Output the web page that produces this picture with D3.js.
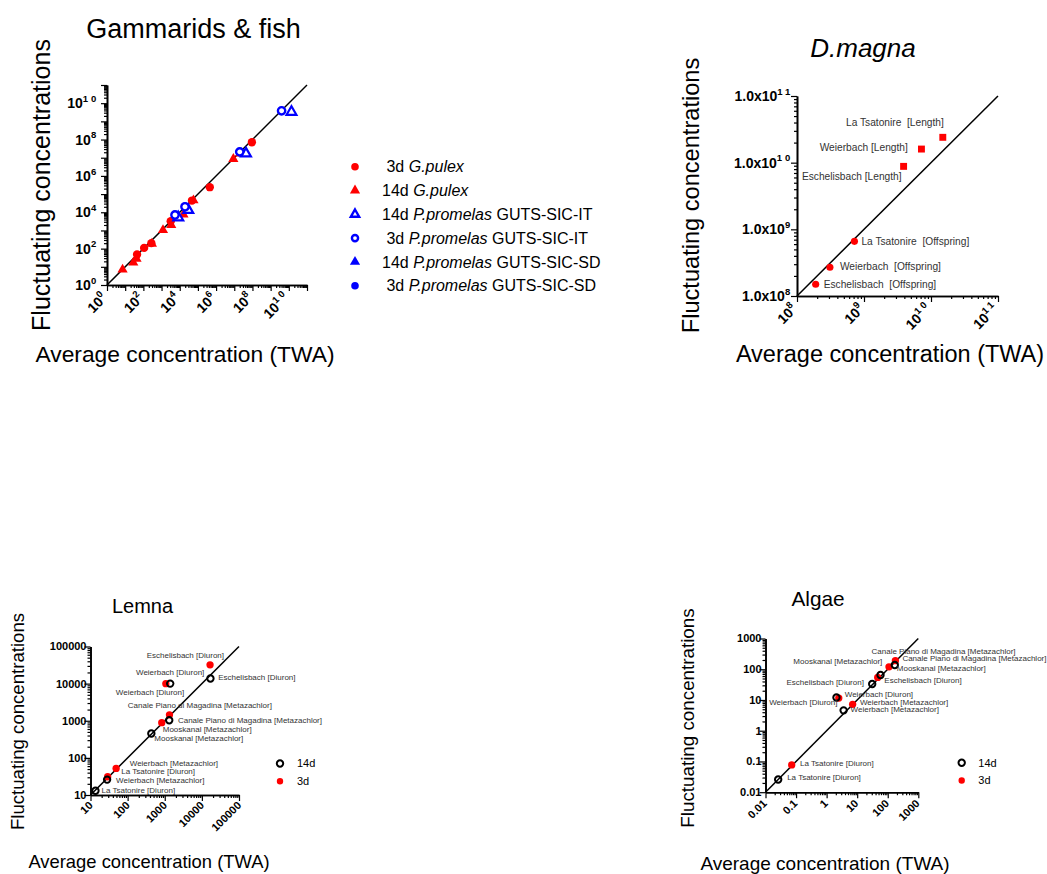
<!DOCTYPE html>
<html>
<head>
<meta charset="utf-8">
<script src="https://cdn.jsdelivr.net/npm/d3@7"></script>
<style>
body { margin: 0; background: #fff; }
text { font-family: "Liberation Sans", Arial, sans-serif; }
</style>
</head>
<body>
<svg id="chart" width="1047" height="874"></svg>
<script>
// ---- Gammarids & fish ----
var gp3dX = [45, 110, 275, 3200, 47000, 450000, 9.3e7];
var gp3dY = [48, 110, 200, 3200, 44000, 240000, 7.1e7];
var gp14dX = [7.2, 28, 42, 295, 1200, 3400, 16000, 57000, 8.9e6, 2.1e7];
var gp14dY = [7.1, 17, 28, 186, 1050, 2000, 7600, 45000, 8.5e6, 1.7e7];
var pp14dItX = [8300, 29500, 4.4e7, 1.4e10];
var pp14dItY = [5200, 13200, 1.7e7, 3.3e9];
var pp3dItX = [5500, 19500, 2.0e7, 4.0e9];
var pp3dItY = [7100, 20000, 2.1e7, 3.8e9];
// SD results sit under the IT symbols
var pp14dSdX = [8300, 29500, 4.4e7, 1.4e10];
var pp14dSdY = [5200, 13200, 1.7e7, 3.3e9];
var pp3dSdX = [5500, 19500, 2.0e7, 4.0e9];
var pp3dSdY = [7100, 20000, 2.1e7, 3.8e9];
var gfLegend = [" 3d |G.pulex|", "14d |G.pulex|", "14d |P.promelas| GUTS-SIC-IT", " 3d |P.promelas| GUTS-SIC-IT", "14d |P.promelas| GUTS-SIC-SD", " 3d |P.promelas| GUTS-SIC-SD"];
var gfTickExp = [0, 2, 4, 6, 8, 10];

// ---- D.magna ----
var dmSites = ["Eschelisbach", "Weierbach", "La Tsatonire"];
var dmOffX = [1.9e8, 3.1e8, 7.2e8];
var dmOffY = [1.5e8, 2.7e8, 6.6e8];
var dmLenX = [3.9e9, 7.2e9, 1.5e10];
var dmLenY = [8.8e9, 1.6e10, 2.4e10];
var dmOffLabels = ["Eschelisbach  [Offspring]", "Weierbach  [Offspring]", "La Tsatonire  [Offspring]"];
var dmLenLabels = ["Eschelisbach [Length]", "Weierbach [Length]", "La Tsatonire  [Length]"];
var dmTickExp = [8, 9, 10, 11];

// ---- Lemna / Algae (same site order) ----
var sites = ["La Tsatonire [Diuron]", "Weierbach [Metazachlor]", "Mooskanal [Metazachlor]", "Canale Piano di Magadina [Metazachlor]", "Weierbach [Diuron]", "Eschelisbach [Diuron]"];
var lem14dX = [13.6, 28, 435, 1320, 1400, 17000];
var lem14dY = [13, 26, 455, 1030, 10000, 13800];
var lem3dX = [29, 49, 830, 1340, 1070, 16600];
var lem3dY = [31, 52, 890, 1440, 10000, 32000];
var lemTicks = [10, 100, 1000, 10000, 100000];

var alg14dX = [0.026, 3.6, 170, 58, 2.1, 31];
var alg14dY = [0.026, 4.6, 138, 65, 12, 33];
var alg3dX = [0.072, 7.1, 110, 178, 2.5, 47];
var alg3dY = [0.077, 7.2, 120, 190, 11.5, 54];
var algTicks = [0.01, 0.1, 1, 10, 100, 1000];

var svg = d3.select('#chart');
var RED = '#ff0000', BLUE = '#0000ff';

function logTicks(lo, hi) {
    var out = [];
    for (var e = lo; e < hi; e++)
        for (var k = 1; k < 10; k++) out.push({v: k * Math.pow(10, e), major: k === 1});
    out.push({v: Math.pow(10, hi), major: true});
    return out;
}

function styleAxis(g) {
    g.select('.domain').attr('stroke', '#000').attr('stroke-width', 1.6);
    g.selectAll('.tick line').attr('stroke', '#000').attr('stroke-width', 1.2);
}

function drawAxes(x, y, lo, hi) {
    var t = logTicks(lo, hi);
    var major = t.filter(d => d.major).map(d => d.v);
    var minor = t.filter(d => !d.major).map(d => d.v);
    var x0 = x.range()[0], y0 = y.range()[0];
    [[minor, 3], [major, 6]].forEach(function (p) {
        svg.append('g').attr('transform', 'translate(0,' + y0 + ')')
            .call(d3.axisBottom(x).tickValues(p[0]).tickSize(p[1]).tickSizeOuter(0).tickFormat(''))
            .call(styleAxis);
        svg.append('g').attr('transform', 'translate(' + x0 + ',0)')
            .call(d3.axisLeft(y).tickValues(p[0]).tickSize(p[1]).tickSizeOuter(0).tickFormat(''))
            .call(styleAxis);
    });
    // line of identity
    svg.append('line')
        .attr('x1', x(Math.pow(10, lo))).attr('y1', y(Math.pow(10, lo)))
        .attr('x2', x(Math.pow(10, hi))).attr('y2', y(Math.pow(10, hi)))
        .attr('stroke', '#000').attr('stroke-width', 1.5);
}

function tickText(sel, base, exp, fs) {
    sel.append('tspan').text(base);
    if (exp !== null)
        sel.append('tspan').attr('dy', -fs * 0.45).attr('font-size', fs * 0.68)
            .attr('letter-spacing', fs * 0.2).text(exp);
}

function yTickLabels(y, x0, vals, fmt, fs, gap) {
    vals.forEach(function (v) {
        var f = fmt(v);
        var t = svg.append('text').attr('x', x0 - gap).attr('y', y(v)).attr('dy', '0.36em')
            .attr('text-anchor', 'end').attr('font-size', fs).attr('font-weight', 'bold');
        tickText(t, f[0], f[1], fs);
    });
}

function xTickLabels(x, y0, vals, fmt, fs, dx, dy) {
    vals.forEach(function (v) {
        var f = fmt(v);
        var t = svg.append('text')
            .attr('transform', 'translate(' + (x(v) + dx) + ',' + (y0 + dy) + ') rotate(-45)')
            .attr('text-anchor', 'end').attr('font-size', fs).attr('font-weight', 'bold');
        tickText(t, f[0], f[1], fs);
    });
}

function axisTitles(xc, xb, yc, yx, fsx, fsy, title, tx, ty, fst, italic) {
    svg.append('text').attr('x', xc).attr('y', xb).attr('text-anchor', 'middle')
        .attr('font-size', fsx).text('Average concentration (TWA)');
    svg.append('text').attr('transform', 'translate(' + yx + ',' + yc + ') rotate(-90)')
        .attr('text-anchor', 'middle').attr('font-size', fsy).text('Fluctuating concentrations');
    svg.append('text').attr('x', tx).attr('y', ty).attr('text-anchor', 'middle')
        .attr('font-size', fst).attr('font-style', italic ? 'italic' : null).text(title);
}

function points(x, y, xs, ys, type, size, fill, stroke, sw) {
    svg.append('g').selectAll('path').data(xs).enter().append('path')
        .attr('transform', (d, i) => 'translate(' + x(d) + ',' + y(ys[i]) + ')')
        .attr('d', d3.symbol().type(type).size(size))
        .attr('fill', fill).attr('stroke', stroke || 'none').attr('stroke-width', sw || 0);
}

function labels(x, y, xs, ys, names, offs, fs) {
    svg.append('g').selectAll('text').data(names).enter().append('text')
        .attr('x', (d, i) => x(xs[i]) + offs[i][0])
        .attr('y', (d, i) => y(ys[i]) + offs[i][1])
        .attr('dy', '0.35em').attr('text-anchor', (d, i) => offs[i][2])
        .attr('font-size', fs).attr('fill', '#333').style('white-space', 'pre')
        .text(d => d);
}

// ================= Panel 1: Gammarids & fish =================
var x1 = d3.scaleLog().domain([1, 1e11]).range([107, 307]);
var y1 = d3.scaleLog().domain([1, 1e11]).range([285, 85]);
drawAxes(x1, y1, 0, 11);
var expFmt = v => ['10', String(Math.round(Math.log10(v)))];
yTickLabels(y1, 107, gfTickExp.map(e => Math.pow(10, e)), expFmt, 14, 8);
xTickLabels(x1, 285, gfTickExp.map(e => Math.pow(10, e)), expFmt, 14, 3, 12);
axisTitles(185, 362, 185, 50, 22.8, 25, 'Gammarids & fish', 193.5, 38, 27, false);

points(x1, y1, pp14dSdX, pp14dSdY, d3.symbolTriangle, 45, BLUE);
points(x1, y1, pp3dSdX, pp3dSdY, d3.symbolCircle, 55, BLUE);
points(x1, y1, gp14dX, gp14dY, d3.symbolTriangle, 45, RED);
points(x1, y1, gp3dX, gp3dY, d3.symbolCircle, 55, RED);
points(x1, y1, pp14dItX, pp14dItY, d3.symbolTriangle, 42, '#fff', BLUE, 2.2);
points(x1, y1, pp3dItX, pp3dItY, d3.symbolCircle, 42, '#fff', BLUE, 2.4);

var legSyms = [
    [d3.symbolCircle, RED, null], [d3.symbolTriangle, RED, null],
    [d3.symbolTriangle, '#fff', BLUE], [d3.symbolCircle, '#fff', BLUE],
    [d3.symbolTriangle, BLUE, null], [d3.symbolCircle, BLUE, null]
];
var leg1 = svg.append('g').selectAll('g').data(gfLegend).enter().append('g')
    .attr('transform', (d, i) => 'translate(355,' + (166.7 + i * 23.8) + ')');
leg1.append('path')
    .attr('d', (d, i) => d3.symbol().type(legSyms[i][0]).size(legSyms[i][2] ? 30 : 45)())
    .attr('fill', (d, i) => legSyms[i][1])
    .attr('stroke', (d, i) => legSyms[i][2] || 'none')
    .attr('stroke-width', (d, i) => legSyms[i][2] ? 2.4 : 0);
var legText = leg1.append('text').attr('x', 27).attr('dy', '0.36em')
    .attr('font-size', 16).style('white-space', 'pre');
legText.each(function (d) {
    var parts = d.split('|');
    var el = d3.select(this);
    parts.forEach(function (p, k) {
        el.append('tspan').attr('font-style', k % 2 ? 'italic' : null).text(p);
    });
});

// ================= Panel 2: D.magna =================
var x2 = d3.scaleLog().domain([1e8, 1e11]).range([797, 998]);
var y2 = d3.scaleLog().domain([1e8, 1e11]).range([296, 96]);
drawAxes(x2, y2, 8, 11);
yTickLabels(y2, 797, dmTickExp.map(e => Math.pow(10, e)), v => ['1.0x10', String(Math.round(Math.log10(v)))], 14, 4);
xTickLabels(x2, 296, dmTickExp.map(e => Math.pow(10, e)), expFmt, 14, 3, 12);
axisTitles(890, 362, 195.5, 699, 23.5, 23.6, 'D.magna', 863, 56.7, 26, true);

points(x2, y2, dmOffX, dmOffY, d3.symbolCircle, 40, RED);
points(x2, y2, dmLenX, dmLenY, d3.symbolSquare, 48, RED);
labels(x2, y2, dmOffX, dmOffY, dmOffLabels, [[8, -0.3, 'start'], [10, -0.6, 'start'], [7, 0, 'start']], 10.2);
labels(x2, y2, dmLenX, dmLenY, dmLenLabels, [[-2, 10, 'end'], [-13.6, -2, 'end'], [1, -14.7, 'end']], 10.2);

// ================= Panel 3: Lemna =================
var x3 = d3.scaleLog().domain([10, 1e5]).range([90.5, 239]);
var y3 = d3.scaleLog().domain([10, 1e5]).range([795, 646.5]);
drawAxes(x3, y3, 1, 5);
var plainFmt = v => [String(v), null];
yTickLabels(y3, 90.5, lemTicks, plainFmt, 11, 4);
xTickLabels(x3, 795, lemTicks, plainFmt, 11, 3, 11);
axisTitles(149, 868, 721.5, 24, 18.4, 18.6, 'Lemna', 142.5, 613, 20, false);

points(x3, y3, lem3dX, lem3dY, d3.symbolCircle, 42, RED);
points(x3, y3, lem14dX, lem14dY, d3.symbolCircle, 32, 'none', '#000', 2);
labels(x3, y3, lem14dX, lem14dY, sites,
    [[6, -0.7, 'start'], [9, 0.7, 'start'], [3, 4.7, 'start'], [8.7, 0, 'start'], [14, 8.4, 'end'], [7.7, -1.3, 'start']], 8);
labels(x3, y3, lem3dX, lem3dY, sites,
    [[13.7, -6, 'start'], [13.6, -5.6, 'start'], [1, 7, 'start'], [30.4, -9.7, 'middle'], [4.3, -11, 'middle'], [14, -10, 'end']], 8);

// ================= Panel 4: Algae =================
var x4 = d3.scaleLog().domain([0.01, 1000]).range([765.5, 918.3]);
var y4 = d3.scaleLog().domain([0.01, 1000]).range([792.2, 638.5]);
drawAxes(x4, y4, -2, 3);
yTickLabels(y4, 765.5, algTicks, plainFmt, 11, 4);
xTickLabels(x4, 792.2, algTicks, plainFmt, 11, 2, 12);
axisTitles(825, 870, 718, 694, 19, 18.8, 'Algae', 818, 606, 20.8, false);

points(x4, y4, alg3dX, alg3dY, d3.symbolCircle, 42, RED);
points(x4, y4, alg14dX, alg14dY, d3.symbolCircle, 32, 'none', '#000', 2);
labels(x4, y4, alg14dX, alg14dY, sites,
    [[9, -2.6, 'start'], [7, -0.7, 'start'], [2, 3.3, 'start'], [-9, -23.6, 'start'], [1, 4.6, 'end'], [-8.3, -1.7, 'end']], 8);
labels(x4, y4, alg3dX, alg3dY, sites,
    [[8.3, -1.7, 'start'], [7.3, -2.6, 'start'], [-6.7, -5.3, 'end'], [7, -2.4, 'start'], [6, -4, 'start'], [6.6, 3, 'start']], 8);

// legends for Lemna and Algae
var smallLeg = ['14d', '3d'];
[[280, 297, 763.5], [961.7, 978.3, 762.7]].forEach(function (p) {
    var lg = svg.append('g').selectAll('g').data(smallLeg).enter().append('g')
        .attr('transform', (d, i) => 'translate(' + p[0] + ',' + (p[2] + i * 17.8) + ')');
    lg.append('path')
        .attr('d', d3.symbol().type(d3.symbolCircle).size(32))
        .attr('fill', (d, i) => i ? RED : 'none')
        .attr('stroke', (d, i) => i ? 'none' : '#000').attr('stroke-width', 2);
    lg.append('text').attr('x', p[1] - p[0]).attr('dy', '0.36em').attr('font-size', 11).text(d => d);
});
</script>
</body>
</html>
